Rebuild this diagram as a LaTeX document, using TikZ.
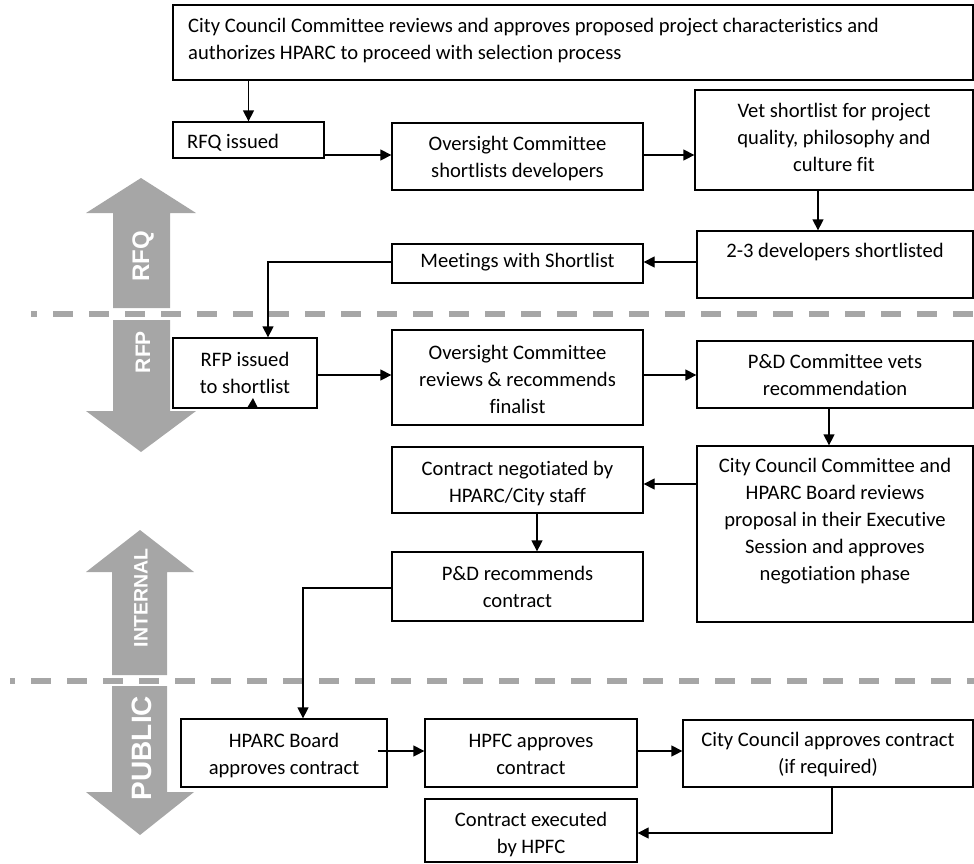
\documentclass[tikz,border=0pt]{standalone}
\usepackage{fontspec}
\setmainfont{Carlito}[Ligatures={NoCommon}]
\newfontfamily\lblfont{Liberation Sans}
\usetikzlibrary{arrows.meta}
\definecolor{band}{HTML}{A6A6A6}
\begin{document}
\begin{tikzpicture}[x=1pt,y=-1pt,
  box/.style={draw,line width=1.3pt,inner sep=0pt,fill=white},
  txt/.style={inner sep=0pt,align=center,font=\fontsize{20.6}{27}\selectfont},
  conn/.style={line width=1.3pt,-{Triangle[length=11pt,width=11pt]}},
  sep/.style={draw=band,line width=6pt,dash pattern=on 20pt off 16pt},
  lbl/.style={inner sep=0pt,text=white,rotate=90,font=\lblfont\bfseries}]
\useasboundingbox (0,0) rectangle (974,863);
% separators
\draw[sep,dash phase=14pt] (31,314) -- (974,314);
\draw[sep,dash phase=15pt] (10,681) -- (974,681);
% gray phase arrows
\fill[band] (141,178) -- (196,213) -- (170,213) -- (170,308) -- (113,308) -- (113,213) -- (86,213) -- cycle;
\fill[band] (113,320) -- (170,320) -- (170,411) -- (196,411) -- (141,452) -- (86,411) -- (113,411) -- cycle;
\fill[band] (140,530) -- (194,572) -- (167,572) -- (167,675) -- (112,675) -- (112,572) -- (86,572) -- cycle;
\fill[band] (112,686) -- (167,686) -- (167,792) -- (194,792) -- (140,835) -- (86,792) -- (112,792) -- cycle;
\node[lbl,font=\lblfont\bfseries\fontsize{24}{24}\selectfont] (lrfq) at (143,256) {RFQ};
\node[lbl,font=\lblfont\bfseries\fontsize{21}{21}\selectfont] (lrfp) at (143,352) {RFP};
\node[lbl,font=\lblfont\bfseries\fontsize{19.5}{19.5}\selectfont] (lint) at (141,598) {INTERNAL};
\node[lbl,font=\lblfont\bfseries\fontsize{28}{28}\selectfont] (lpub) at (142,748) {PUBLIC};
% boxes
\node[box,minimum width=800pt,minimum height=75pt] (top) at (573,42.5) {};
\node[box,minimum width=151pt,minimum height=36pt] (rfq) at (248.5,140) {};
\node[box,minimum width=251pt,minimum height=67pt] (osl) at (517.5,156.5) {};
\node[box,minimum width=278pt,minimum height=100pt] (vet) at (834,140) {};
\node[box,minimum width=276pt,minimum height=67pt] (dev) at (835,264.5) {};
\node[box,minimum width=251pt,minimum height=39pt] (meet) at (517.5,263.5) {};
\node[box,minimum width=144pt,minimum height=70pt] (rfp) at (245,373) {};
\node[box,minimum width=251pt,minimum height=95pt] (ocr) at (517.5,377.5) {};
\node[box,minimum width=276pt,minimum height=67pt] (pdv) at (835,374.5) {};
\node[box,minimum width=276pt,minimum height=176pt] (ccc) at (835,534) {};
\node[box,minimum width=251pt,minimum height=66pt] (cn) at (517.5,480) {};
\node[box,minimum width=251pt,minimum height=69pt] (pdr) at (517.5,586.5) {};
\node[box,minimum width=206pt,minimum height=68pt] (hb) at (284,753) {};
\node[box,minimum width=212pt,minimum height=68pt] (hpfc) at (531,753) {};
\node[box,minimum width=290pt,minimum height=67pt] (cca) at (828,753.5) {};
\node[box,minimum width=212pt,minimum height=63pt] (ce) at (531,830.5) {};
% texts
\node[txt,align=left,anchor=west] (ttop) at (188,41) {\strut City Council Committee reviews and approves proposed project characteristics and\\\strut authorizes HPARC to proceed with selection process};
\node[txt,anchor=west] (trfq) at (187,143) {\strut RFQ issued};
\node[txt] (tosl) at (517.5,158.5) {\strut Oversight Committee\\\strut shortlists developers};
\node[txt] (tvet) at (834,139) {\strut Vet shortlist for project\\\strut quality, philosophy and\\\strut culture fit};
\node[txt] (tdev) at (835,252) {\strut 2-3 developers shortlisted};
\node[txt] (tmeet) at (517.5,262) {\strut Meetings with Shortlist};
\node[txt] (trfp) at (245,375) {\strut RFP issued\\\strut to shortlist};
\node[txt] (tocr) at (517.5,381) {\strut Oversight Committee\\\strut reviews \& recommends\\\strut finalist};
\node[txt] (tpdv) at (835,376.5) {\strut P\&D Committee vets\\\strut recommendation};
\node[txt] (tccc) at (835,521.5) {\strut City Council Committee and\\\strut HPARC Board reviews\\\strut proposal in their Executive\\\strut Session and approves\\\strut negotiation phase};
\node[txt] (tcn) at (517.5,483.5) {\strut Contract negotiated by\\\strut HPARC/City staff};
\node[txt] (tpdr) at (517.5,589) {\strut P\&D recommends\\\strut contract};
\node[txt] (thb) at (284,756) {\strut HPARC Board\\\strut approves contract};
\node[txt] (thpfc) at (531,756) {\strut HPFC approves\\\strut contract};
\node[txt] (tcca) at (828,755) {\strut City Council approves contract\\\strut (if required)};
\node[txt] (tce) at (531,835) {\strut Contract executed\\\strut by HPFC};
% connectors
\draw[conn] (top.south -| rfq.north) -- (rfq.north);
\draw[conn] (rfq.east |- 0,155) -- (osl.west |- 0,155);
\draw[conn] (osl.east |- 0,155) -- (vet.west |- 0,155);
\draw[conn] (vet.south -| 818,0) -- (dev.north -| 818,0);
\draw[conn] (dev.west |- 0,262) -- (meet.east |- 0,262);
\draw[conn] (meet.west |- 0,262) -| (rfp.north -| 268,0);
\draw[conn] (rfp.east |- 0,375) -- (ocr.west |- 0,375);
\draw[conn] (ocr.east |- 0,375) -- (pdv.west |- 0,375);
\draw[conn] (pdv.south -| 829,0) -- (ccc.north -| 829,0);
\draw[conn] (ccc.west |- 0,484) -- (cn.east |- 0,484);
\draw[conn] (cn.south -| 537,0) -- (pdr.north -| 537,0);
\draw[conn] (pdr.west |- 0,588) -| (hb.north -| 303,0);
\draw[conn] ([xshift=-10pt]hb.east |- 0,751) -- (hpfc.west |- 0,751);
\draw[conn] (hpfc.east |- 0,751) -- (cca.west |- 0,751);
\draw[conn] (cca.south -| 832,0) |- (ce.east |- 0,833);
% stray arrowhead at bottom of RFP box
\fill (247,408) -- (258,408) -- (253,398) -- cycle;
\end{tikzpicture}
\end{document}
